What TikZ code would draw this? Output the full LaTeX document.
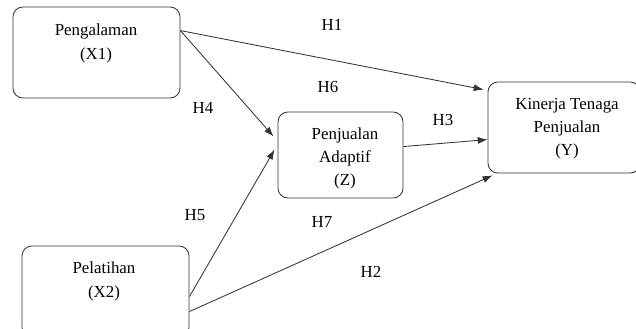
\documentclass[tikz,border=0pt]{standalone}
\usepackage{fontspec}
\setmainfont{Liberation Serif}
\usetikzlibrary{calc,arrows.meta}
\tikzset{
  varbox/.style={draw=black!80, line width=0.6pt, rounded corners=7pt, minimum width=4.175cm, minimum height=2.275cm},
  vartext/.style={align=center, inner sep=0pt},
  hyplabel/.style={inner sep=0pt},
  path/.style={draw=black!80, line width=0.6pt, -{Latex[length=7pt,width=5pt]}}
}
\begin{document}
\begin{tikzpicture}[x=0.025cm, y=-0.025cm, every node/.style={font=\fontsize{12}{16.5}\selectfont}]
\useasboundingbox (0,0) rectangle (636,328);
\clip (0,0) rectangle (636,328);
% variable boxes
\node[varbox] (x1) at (96.5,52.5) {};
\node[vartext] (x1txt) at (96,43.5) {Pengalaman\\(X1)};
\node[varbox] (x2) at (105.5,291.5) {};
\node[vartext] (x2txt) at (104,281.5) {Pelatihan\\(X2)};
\node[varbox, minimum width=3.125cm, minimum height=2.15cm] (z) at (340.5,155) {};
\node[vartext] (ztxt) at (345,158.5) {Penjualan\\Adaptif\\(Z)};
\node[varbox, minimum width=3.8cm] (y) at (564,127.5) {};
\node[vartext] (ytxt) at (567,128.5) {Kinerja Tenaga\\Penjualan\\(Y)};
% hypothesis paths
\draw[path] ($(x1.north east)+(0,24)$) -- ($(y.north west)+(-4,8)$);
\draw[path] ($(x1.north east)+(0,24)$) -- ($(z.north west)+(-4,25)$);
\draw[path] ($(x2.north east)+(0,51)$) -- ($(z.north west)+(-3,38)$);
\draw[path] ($(z.north east)+(0,35)$) -- ($(y.north west)+(0,58)$);
\draw[path] ($(x2.north east)+(0,66)$) -- ($(y.south west)+(5,2)$);
% labels
\node[hyplabel] (h1) at (332,25) {H1};
\node[hyplabel] (h6) at (328,87) {H6};
\node[hyplabel] (h4) at (203,108) {H4};
\node[hyplabel] (h3) at (443,120) {H3};
\node[hyplabel] (h5) at (195,215) {H5};
\node[hyplabel] (h7) at (322,222) {H7};
\node[hyplabel] (h2) at (371,272) {H2};
\end{tikzpicture}
\end{document}
